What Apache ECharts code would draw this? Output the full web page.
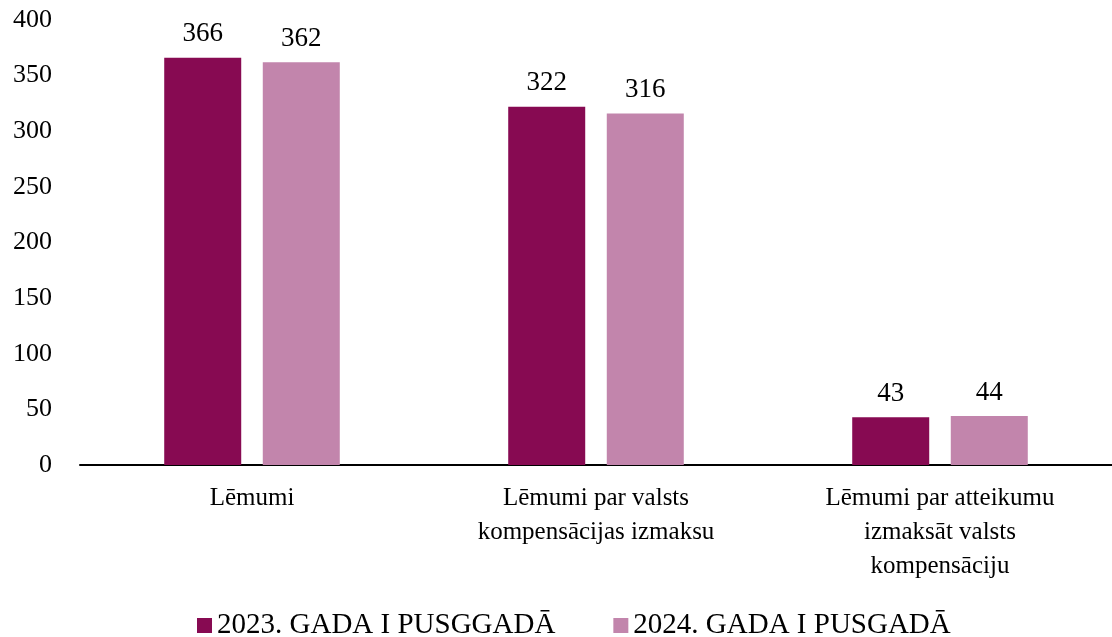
<!DOCTYPE html>
<html>
<head>
<meta charset="utf-8">
<script src="https://cdn.jsdelivr.net/npm/echarts@6/dist/echarts.min.js"></script>
<style>
    html, body { margin: 0; padding: 0; background: #fff; }
    #chart { width: 1112px; height: 637px; }
</style>
</head>
<body>
<div id="chart"></div>
<script>
// kategorijas un vērtības
var categories = ['Lēmumi', 'Lēmumi par valsts\nkompensācijas izmaksu', 'Lēmumi par atteikumu\nizmaksāt valsts\nkompensāciju'];
var seriesNames = ['2023. GADA I PUSGGADĀ', '2024. GADA I PUSGADĀ'];
var values2023 = [366, 322, 43];
var values2024 = [362, 316, 44];
var yTicks = [0, 50, 100, 150, 200, 250, 300, 350, 400];

var fontFamily = '"Liberation Serif", "Times New Roman", serif';
var colors = ['#870A52', '#C285AC'];

var myChart = echarts.init(document.getElementById('chart'));

function barLabel() {
    return {
        show: true,
        position: 'top',
        distance: 10,
        fontFamily: fontFamily,
        fontSize: 27,
        color: '#000'
    };
}

var option = {
    color: colors,
    textStyle: { fontFamily: fontFamily },
    grid: {
        left: 80,
        right: -8,
        top: 20,
        bottom: 172
    },
    legend: {
        data: seriesNames,
        top: 606,
        left: 192,
        itemWidth: 15,
        itemHeight: 15,
        itemGap: 58,
        icon: 'rect',
        textStyle: { fontFamily: fontFamily, fontSize: 29, color: '#000' }
    },
    xAxis: {
        type: 'category',
        data: categories,
        axisLine: { lineStyle: { color: '#000', width: 2 } },
        axisTick: { show: false },
        axisLabel: {
            fontFamily: fontFamily,
            fontSize: 25,
            color: '#000',
            lineHeight: 34,
            margin: 16,
            interval: 0
        }
    },
    yAxis: {
        type: 'value',
        min: yTicks[0],
        max: yTicks[yTicks.length - 1],
        interval: 50,
        splitLine: { show: false },
        axisLine: { show: false },
        axisTick: { show: false },
        axisLabel: {
            fontFamily: fontFamily,
            fontSize: 26,
            color: '#000',
            margin: 28
        }
    },
    series: [
        {
            name: seriesNames[0],
            type: 'bar',
            data: values2023,
            barWidth: 77,
            barGap: '28%',
            label: barLabel()
        },
        {
            name: seriesNames[1],
            type: 'bar',
            data: values2024,
            barWidth: 77,
            barGap: '28%',
            label: barLabel()
        }
    ]
};
myChart.setOption(option);
</script>
</body>
</html>
